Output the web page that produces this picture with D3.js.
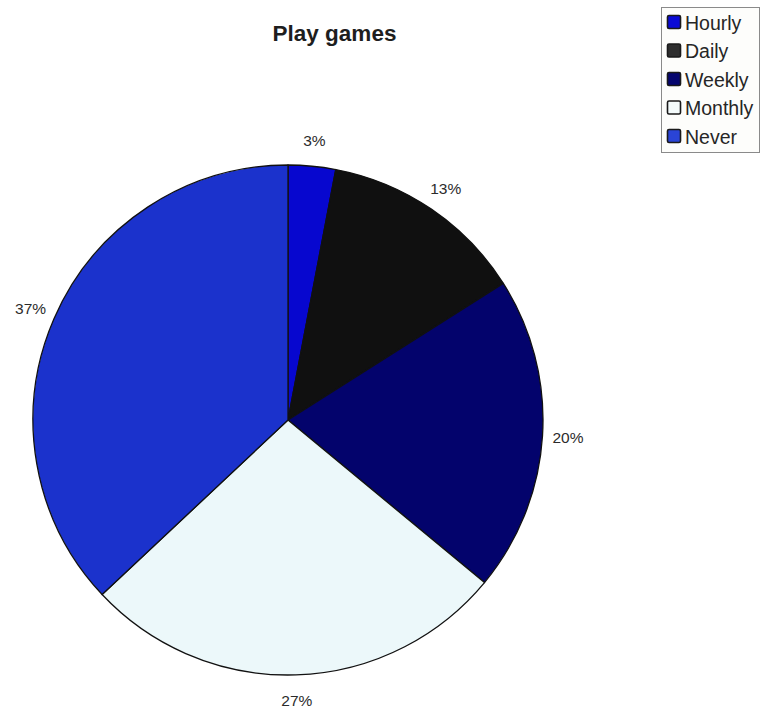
<!DOCTYPE html>
<html>
<head>
<meta charset="utf-8">
<script src="https://cdn.jsdelivr.net/npm/d3@7"></script>
<style>
  html, body { margin: 0; padding: 0; background: #ffffff; }
  svg { display: block; }
</style>
</head>
<body>
<div id="chart"></div>
<script>
// Survey answers: how often respondents play games
const categories = ["Hourly", "Daily", "Weekly", "Monthly", "Never"];
const shares = [3, 13, 20, 27, 37];
const sliceColors = ["#0707cf", "#101010", "#03036c", "#ecf8fa", "#1b32cc"];
const legendColors = ["#0a0ad6", "#2e2e2e", "#05056e", "#f4fbfb", "#2a44d6"];
const titleText = "Play games";

const width = 761, height = 709;
const cx = 288, cy = 420, radius = 255;

const svg = d3.select("#chart").append("svg")
  .attr("width", width)
  .attr("height", height);

// Title
svg.append("text")
  .attr("x", 334.5)
  .attr("y", 41)
  .attr("text-anchor", "middle")
  .attr("font-family", "Liberation Sans, Arial, sans-serif")
  .attr("font-weight", "bold")
  .attr("font-size", 22.5)
  .attr("fill", "#1e1e1e")
  .text(titleText);

// Pie: starts at 12 o'clock, runs clockwise
const pie = d3.pie().sort(null).value(d => d.value)
  .startAngle(0).endAngle(2 * Math.PI);
const data = categories.map((c, i) => ({ name: c, value: shares[i], color: sliceColors[i] }));
const arcs = pie(data);

const arc = d3.arc().innerRadius(0).outerRadius(radius);
const labelArc = d3.arc().innerRadius(radius * 1.1).outerRadius(radius * 1.1);

const g = svg.append("g").attr("transform", `translate(${cx},${cy})`);

g.selectAll("path.slice")
  .data(arcs)
  .join("path")
  .attr("class", "slice")
  .attr("d", arc)
  .attr("fill", d => d.data.color)
  .attr("stroke", "#111")
  .attr("stroke-width", 1.3)
  .attr("stroke-linejoin", "round");

const fmt = d3.format(".0%");
const total = d3.sum(shares);

g.selectAll("text.pct")
  .data(arcs)
  .join("text")
  .attr("class", "pct")
  .attr("transform", d => {
    const [x, y] = labelArc.centroid(d);
    return `translate(${x},${y})`;
  })
  .attr("text-anchor", "middle")
  .attr("dominant-baseline", "central")
  .attr("font-family", "Liberation Sans, Arial, sans-serif")
  .attr("font-size", 15.5)
  .attr("fill", "#2b2b2b")
  .text(d => fmt(d.data.value / total));

// Legend
const legend = svg.append("g").attr("class", "legend");
legend.append("rect")
  .attr("x", 661.5)
  .attr("y", 7.5)
  .attr("width", 98)
  .attr("height", 145)
  .attr("fill", "#fdfdfb")
  .attr("stroke", "#8a8a8a")
  .attr("stroke-width", 1);

const rowY = d3.scalePoint().domain(categories).range([22.5, 136.5]);

const rows = legend.selectAll("g.row")
  .data(categories)
  .join("g")
  .attr("class", "row")
  .attr("transform", d => `translate(0,${rowY(d)})`);

rows.append("rect")
  .attr("x", 667.5)
  .attr("y", -7)
  .attr("width", 13)
  .attr("height", 13)
  .attr("rx", 1.5)
  .attr("fill", (d, i) => legendColors[i])
  .attr("stroke", "#1a1a1a")
  .attr("stroke-width", 1.6);

rows.append("text")
  .attr("x", 685)
  .attr("y", 0)
  .attr("dominant-baseline", "central")
  .attr("font-family", "Liberation Sans, Arial, sans-serif")
  .attr("font-size", 19.5)
  .attr("fill", "#262626")
  .text(d => d);
</script>
</body>
</html>
